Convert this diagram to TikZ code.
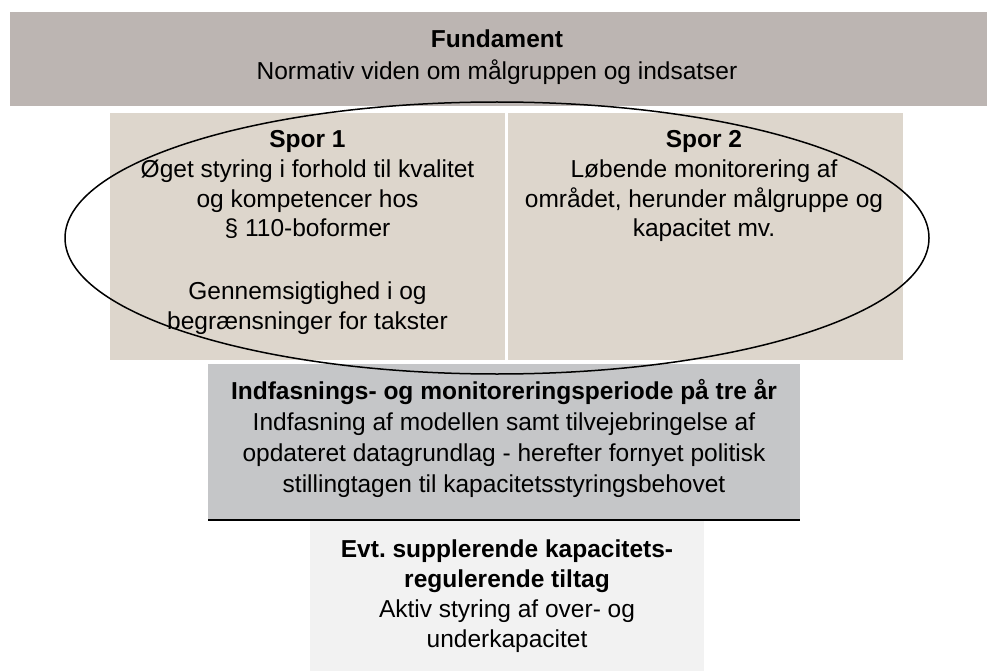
\documentclass[tikz,border=0pt]{standalone}
\usepackage{fontspec}
\setmainfont{Liberation Sans}
\usetikzlibrary{positioning}
\definecolor{fundgray}{RGB}{188,181,178}
\definecolor{sporbeige}{RGB}{221,214,204}
\definecolor{fasegray}{RGB}{197,198,200}
\definecolor{tiltaglight}{RGB}{242,242,242}
\frenchspacing

\begin{document}
\begin{tikzpicture}[x=1pt, y=-1pt,
		boxtext/.style={align=center, inner sep=0pt, anchor=north},
		sporfont/.style={font=\fontsize{24.5}{29.7}\selectfont}]
			%%%%% START %%%%%
			\useasboundingbox (0, 0) rectangle (987, 671);
			
			\fill[fundgray] (10, 12) rectangle (987, 106);
			\node[boxtext, font=\fontsize{24.5}{32}\selectfont] (fund) at (497, 30) {\textbf{Fundament}\\Normativ viden om målgruppen og indsatser};
			
			\fill[sporbeige] (110, 113) rectangle (505, 360);
			\fill[sporbeige] (508, 113) rectangle (903, 360);
			\node[boxtext, sporfont] (spor1) at (307.5, 130.5) {\textbf{Spor 1}\\Øget styring i forhold til kvalitet\\og kompetencer hos\\§ 110-boformer\\[33pt]Gennemsigtighed i og\\begrænsninger for takster};
			\node[boxtext, sporfont] (spor2) at (704, 130.5) {\textbf{Spor 2}\\Løbende monitorering af\\området, herunder målgruppe og\\kapacitet mv.};
			
			\fill[fasegray] (208, 364) rectangle (800, 520);
			\draw[line width=2pt] (208, 520) -- (800, 520);
			\node[boxtext, font=\fontsize{24.5}{31}\selectfont] (fase) at (504, 379.5) {\textbf{Indfasnings- og monitoreringsperiode på tre år}\\Indfasning af modellen samt tilvejebringelse af\\opdateret datagrundlag - herefter fornyet politisk\\stillingtagen til kapacitetsstyringsbehovet};
			
			\fill[tiltaglight] (310, 521) rectangle (704, 671);
			\node[boxtext, font=\fontsize{24.5}{30}\selectfont] (tiltag) at (507, 539.5) {\textbf{Evt. supplerende kapacitets-}\\\textbf{regulerende tiltag}\\Aktiv styring af over- og\\underkapacitet};
			
			\draw[line width=1.5pt] (497, 238) ellipse [x radius=432pt, y radius=136pt];
			
			%%%%% END %%%%%
\end{tikzpicture}
\end{document}
